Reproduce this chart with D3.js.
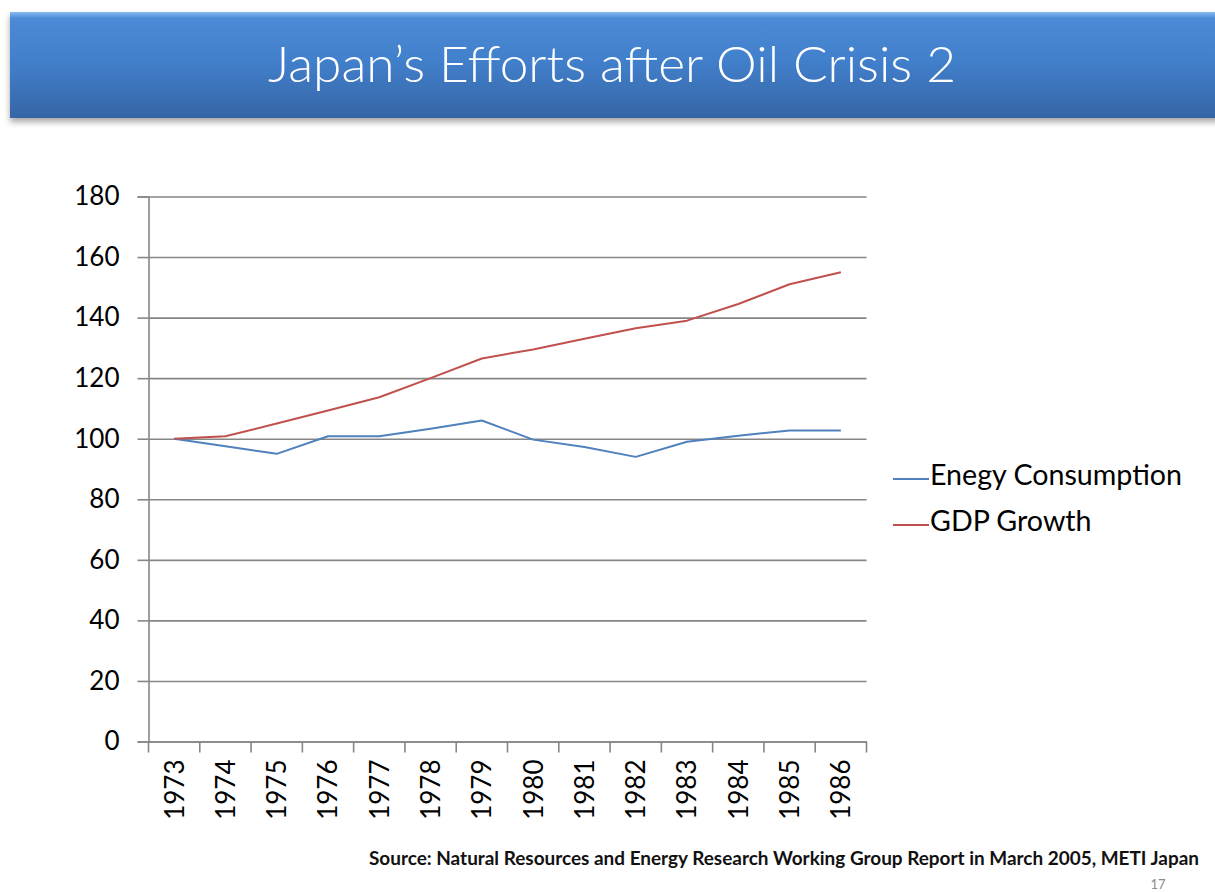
<!DOCTYPE html>
<html>
<head>
<meta charset="utf-8">
<script src="https://cdn.jsdelivr.net/npm/d3@7"></script>
<style>
  html, body { margin: 0; padding: 0; background: #ffffff; }
  svg { display: block; }
  text { font-family: Lato, "Open Sans", "Noto Sans", sans-serif; }
</style>
</head>
<body>
<svg id="chart" width="1215" height="892"></svg>
<script>
const years = ["1973","1974","1975","1976","1977","1978","1979","1980","1981","1982","1983","1984","1985","1986"];
const energyConsumption = [100, 97.5, 95, 100.8, 100.8, 103.3, 106, 99.7, 97.3, 94, 99, 101, 102.7, 102.7];
const gdpGrowth = [100, 100.8, 105, 109.3, 113.7, 120, 126.5, 129.5, 133, 136.5, 139, 144.5, 151, 155];
const yTicks = [0, 20, 40, 60, 80, 100, 120, 140, 160, 180];
const seriesNames = ["Enegy Consumption", "GDP Growth"];
const titleText = "Japan\u2019s Efforts after Oil Crisis 2";
const sourceText = "Source: Natural Resources and Energy Research Working Group Report in March 2005, METI Japan";
const pageNumber = "17";

(function () {
const svg = d3.select("#chart");
const defs = svg.append("defs");

function fitWidth(sel, target) {
  const w = sel.node().getComputedTextLength();
  const fs = parseFloat(sel.attr("font-size"));
  if (w > 0) sel.attr("font-size", (fs * target / w).toFixed(2));
}

// ---- Title bar ----
const grad = defs.append("linearGradient").attr("id", "tg").attr("x1", 0).attr("y1", 0).attr("x2", 0).attr("y2", 1);
grad.append("stop").attr("offset", "0%").attr("stop-color", "#86bbf2");
grad.append("stop").attr("offset", "6%").attr("stop-color", "#4b8ad6");
grad.append("stop").attr("offset", "45%").attr("stop-color", "#4280cc");
grad.append("stop").attr("offset", "100%").attr("stop-color", "#3565a6");
const filt = defs.append("filter").attr("id", "sh").attr("x", "-5%").attr("y", "-20%").attr("width", "110%").attr("height", "150%");
filt.append("feDropShadow").attr("dx", 0).attr("dy", 4).attr("stdDeviation", 3).attr("flood-color", "#000").attr("flood-opacity", 0.35);

svg.append("rect").attr("x", 10).attr("y", 12).attr("width", 1220).attr("height", 106)
  .attr("fill", "url(#tg)").attr("filter", "url(#sh)");
svg.append("text").attr("x", 612).attr("y", 82).attr("text-anchor", "middle")
  .attr("fill", "#ffffff").attr("font-size", 50).attr("font-weight", 300)
  .attr("textLength", 688).attr("lengthAdjust", "spacingAndGlyphs")
  .text(titleText);

// ---- Chart ----
const pl = 148.5, pr = 866.5, pt = 196.5, pb = 741.5;
const x = d3.scaleBand().domain(years).range([pl, pr]).padding(0);
const y = d3.scaleLinear().domain([0, 180]).range([pb, pt]);
const gridColor = "#868686";

const grid = svg.append("g").attr("transform", `translate(${pl},0)`)
  .call(d3.axisLeft(y).tickValues(yTicks).tickSize(-(pr - pl)).tickFormat(""));
grid.select(".domain").remove();
grid.selectAll("line").attr("stroke", gridColor).attr("stroke-width", 1.6);

const yAxis = svg.append("g").attr("transform", `translate(${pl},0)`)
  .call(d3.axisLeft(y).tickValues(yTicks).tickSize(11).tickPadding(18));
yAxis.select(".domain").attr("stroke", gridColor).attr("stroke-width", 1.6);
yAxis.selectAll("line").attr("stroke", gridColor).attr("stroke-width", 1.6);
yAxis.selectAll("text").attr("font-size", 26).attr("fill", "#000").attr("font-family", "Lato, sans-serif");

const xAxis = svg.append("g").attr("transform", `translate(0,${pb})`)
  .call(d3.axisBottom(x).tickSize(0).tickPadding(0));
xAxis.select(".domain").attr("stroke", gridColor).attr("stroke-width", 1.6);
xAxis.selectAll("text")
  .attr("font-size", 26).attr("fill", "#000").attr("font-family", "Lato, sans-serif")
  .attr("text-anchor", "end")
  .attr("transform", "rotate(-90)")
  .attr("x", -18).attr("y", 0).attr("dy", "0.36em");
const boundaries = years.map(d => x(d)).concat([x(years[years.length - 1]) + x.bandwidth()]);
svg.append("g").selectAll("line").data(boundaries).join("line")
  .attr("x1", d => d).attr("x2", d => d)
  .attr("y1", pb).attr("y2", pb + 11)
  .attr("stroke", gridColor).attr("stroke-width", 1.6);

const cx = d => x(d) + x.bandwidth() / 2;
const lineGen = d3.line().x((d, i) => cx(years[i])).y(d => y(d));
const colors = ["#4f81bd", "#c0504d"];
[energyConsumption, gdpGrowth].forEach((s, i) => {
  svg.append("path").datum(s).attr("d", lineGen)
    .attr("fill", "none").attr("stroke", colors[i]).attr("stroke-width", 2)
    .attr("stroke-linejoin", "round");
});

const legendY = [475, 521];
const legendTexts = [];
seriesNames.forEach((name, i) => {
  svg.append("line").attr("x1", 893).attr("x2", 929)
    .attr("y1", legendY[i] + 4).attr("y2", legendY[i] + 4)
    .attr("stroke", colors[i]).attr("stroke-width", 2);
  legendTexts.push(svg.append("text").attr("x", 930).attr("y", legendY[i]).attr("dy", "0.36em")
    .attr("font-size", 25).attr("fill", "#000").text(name));
});
const lw = legendTexts[0].node().getComputedTextLength();
const lfs = 25 * 252 / lw;
legendTexts.forEach(t => t.attr("font-size", lfs.toFixed(2)));

const src = svg.append("text").attr("x", 1199).attr("y", 865).attr("text-anchor", "end")
  .attr("font-size", 14).attr("font-weight", "bold").attr("fill", "#111")
  .attr("font-family", "'Open Sans', sans-serif").text(sourceText);
fitWidth(src, 831);

svg.append("text").attr("x", 1158).attr("y", 889).attr("text-anchor", "middle")
  .attr("font-size", 13).attr("fill", "#8a8a8a").text(pageNumber);
})();
</script>
</body>
</html>
